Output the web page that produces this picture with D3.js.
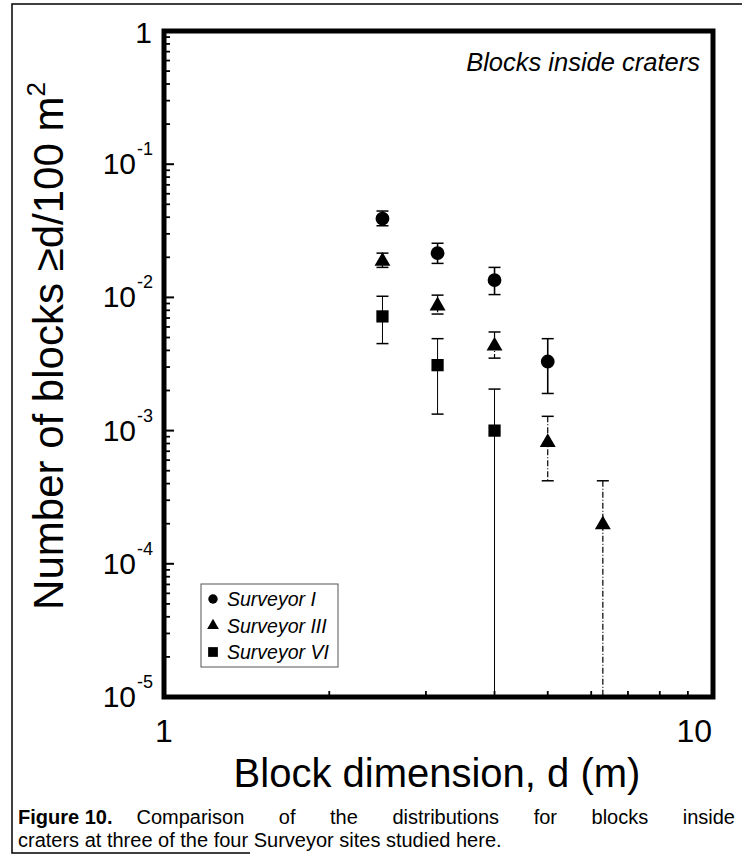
<!DOCTYPE html>
<html>
<head>
<meta charset="utf-8">
<script src="https://cdn.jsdelivr.net/npm/d3@7"></script>
<style>
  body { margin: 0; background: #fff; }
  svg { display: block; font-family: "Liberation Sans", Arial, sans-serif; }
</style>
</head>
<body>
<svg id="chart" width="742" height="860"></svg>
<script>
// block sizes (m), shared bins
const sizes = [2.5, 3.15, 4, 5, 6.3];

// Surveyor I
const s1Values = [0.039, 0.0215, 0.0135, 0.0033];
const s1High = [0.0445, 0.0255, 0.0168, 0.0049];
const s1Low = [0.0345, 0.018, 0.0105, 0.0019];

// Surveyor III
const s3Values = [0.019, 0.0088, 0.0044, 0.00083, 0.0002];
const s3High = [0.0215, 0.0104, 0.0055, 0.00128, 0.00042];
const s3Low = [0.0168, 0.0075, 0.0035, 0.00042, 0];

// Surveyor VI
const s6Values = [0.0072, 0.0031, 0.001];
const s6High = [0.0102, 0.0049, 0.00205];
const s6Low = [0.0045, 0.00133, 0];

const yTicks = [1, 1e-1, 1e-2, 1e-3, 1e-4, 1e-5];
const yTickLabels = ['1', '-1', '-2', '-3', '-4', '-5'];
const xTicks = [1, 10];

const series = [
  { name: 'Surveyor I', symbol: d3.symbolCircle, size: 150, legendSize: 70,
    values: s1Values, high: s1High, low: s1Low, width: 1.6, dash: null },
  { name: 'Surveyor III', symbol: d3.symbolTriangle, size: 110, legendSize: 60,
    values: s3Values, high: s3High, low: s3Low, width: 1.2, dash: '6,2,1,2' },
  { name: 'Surveyor VI', symbol: d3.symbolSquare, size: 150, legendSize: 95,
    values: s6Values, high: s6High, low: s6Low, width: 1, dash: null }
];

const svg = d3.select('#chart');
const pLeft = 164, pRight = 713, pTop = 31, pBottom = 697;

const x = d3.scaleLog().domain([1, 10]).range([pLeft, pRight]);
const y = d3.scaleLog().domain([1e-5, 1]).range([pBottom, pTop]);
const yc = (v) => y(Math.max(v, 1e-5));

// outer figure border
svg.append('path')
  .attr('d', `M760,4 H12 V853 H250`)
  .attr('fill', 'none').attr('stroke', '#000').attr('stroke-width', 1.5);

// minor ticks, inward
const yMinor = [];
for (let e = -5; e < 0; e++) for (let m = 2; m <= 9; m++) yMinor.push(m * Math.pow(10, e));
const xMinor = d3.range(2, 10);

const g = svg.append('g');
g.selectAll('.ymin').data(yMinor).enter().append('line')
  .attr('x1', pLeft).attr('x2', pLeft + 6)
  .attr('y1', (d) => y(d)).attr('y2', (d) => y(d))
  .attr('stroke', '#000').attr('stroke-width', 1.8);
g.selectAll('.ymaj').data(yTicks).enter().append('line')
  .attr('x1', pLeft).attr('x2', pLeft + 10)
  .attr('y1', (d) => y(d)).attr('y2', (d) => y(d))
  .attr('stroke', '#000').attr('stroke-width', 2);
g.selectAll('.xmin').data(xMinor).enter().append('line')
  .attr('x1', (d) => x(d)).attr('x2', (d) => x(d))
  .attr('y1', pBottom).attr('y2', pBottom - 6)
  .attr('stroke', '#000').attr('stroke-width', 1.8);

// frame
svg.append('rect')
  .attr('x', pLeft).attr('y', pTop)
  .attr('width', pRight - pLeft).attr('height', pBottom - pTop)
  .attr('fill', 'none').attr('stroke', '#000').attr('stroke-width', 5);

// y tick labels
const yl = svg.append('g');
yTicks.forEach((t, i) => {
  if (i === 0) {
    yl.append('text').attr('x', 152).attr('y', y(t) + 12)
      .attr('text-anchor', 'end').attr('font-size', 30).text('1');
  } else {
    yl.append('text').attr('x', 136).attr('y', y(t) + 10)
      .attr('text-anchor', 'end').attr('font-size', 30).text('10');
    yl.append('text').attr('x', 137).attr('y', y(t) - 9)
      .attr('font-size', 18).text(yTickLabels[i]);
  }
});

// x tick labels
svg.append('text').attr('x', x(xTicks[0])).attr('y', 742)
  .attr('text-anchor', 'middle').attr('font-size', 32).text('1');
svg.append('text').attr('x', x(xTicks[1]) - 1).attr('y', 742)
  .attr('text-anchor', 'end').attr('font-size', 32).text('10');

// axis titles
svg.append('text').attr('x', 437).attr('y', 787)
  .attr('text-anchor', 'middle').attr('font-size', 40)
  .text('Block dimension, d (m)');

const ylab = svg.append('text')
  .attr('transform', 'translate(63,346) rotate(-90)')
  .attr('text-anchor', 'middle').attr('font-size', 42);
ylab.append('tspan').text('Number of blocks \u2265d/100 m');
ylab.append('tspan').attr('dy', -18).attr('font-size', 26).text('2');

svg.append('text').attr('x', 700).attr('y', 71)
  .attr('text-anchor', 'end').attr('font-size', 25.5)
  .attr('font-style', 'italic').text('Blocks inside craters');

// error bars and markers
const plot = svg.append('g');
series.forEach((s) => {
  const pts = s.values.map((v, i) => ({ d: sizes[i], v: v, hi: s.high[i], lo: s.low[i] }));
  const eb = plot.append('g')
    .attr('stroke', '#000').attr('stroke-width', s.width)
    .attr('stroke-dasharray', s.dash);
  eb.selectAll('line.v').data(pts).enter().append('line')
    .attr('x1', (p) => x(p.d)).attr('x2', (p) => x(p.d))
    .attr('y1', (p) => yc(p.hi)).attr('y2', (p) => yc(p.lo));
  const caps = pts.flatMap((p) => p.lo > 0 ? [[p.d, p.hi], [p.d, p.lo]] : [[p.d, p.hi]]);
  plot.append('g').attr('stroke', '#000').attr('stroke-width', 1.5)
    .selectAll('line').data(caps).enter().append('line')
    .attr('x1', (c) => x(c[0]) - 6).attr('x2', (c) => x(c[0]) + 6)
    .attr('y1', (c) => yc(c[1])).attr('y2', (c) => yc(c[1]));
  plot.append('g').selectAll('path').data(pts).enter().append('path')
    .attr('transform', (p) => `translate(${x(p.d)},${y(p.v) + (s.symbol === d3.symbolTriangle ? 1 : 0)})`)
    .attr('d', d3.symbol().type(s.symbol).size(s.size))
    .attr('fill', '#000');
});

// legend
const lg = svg.append('g');
lg.append('rect').attr('x', 201).attr('y', 584).attr('width', 137).attr('height', 83)
  .attr('fill', '#fff').attr('stroke', '#555').attr('stroke-width', 1);
series.forEach((s, i) => {
  const ly = 599 + i * 26.5;
  lg.append('path').attr('transform', `translate(213,${ly})`)
    .attr('d', d3.symbol().type(s.symbol).size(s.legendSize)).attr('fill', '#000');
  lg.append('text').attr('x', 227).attr('y', ly + 7)
    .attr('font-size', 19.5).attr('font-style', 'italic').text(s.name);
});

// caption, first line justified by word spacing
const capGap = 24;
const cap1 = svg.append('text').attr('x', 18).attr('y', 824).attr('font-size', 20);
cap1.append('tspan').attr('font-weight', 'bold').text('Figure 10.');
const capRest = cap1.append('tspan').attr('dx', capGap)
  .text('Comparison of the distributions for blocks inside');
const natural = cap1.node().getComputedTextLength() + capGap;
capRest.attr('word-spacing', Math.max(0, (735 - 18 - natural) / 6));
svg.append('text').attr('x', 18).attr('y', 847).attr('font-size', 20)
  .text('craters at three of the four Surveyor sites studied here.');
</script>
</body>
</html>
